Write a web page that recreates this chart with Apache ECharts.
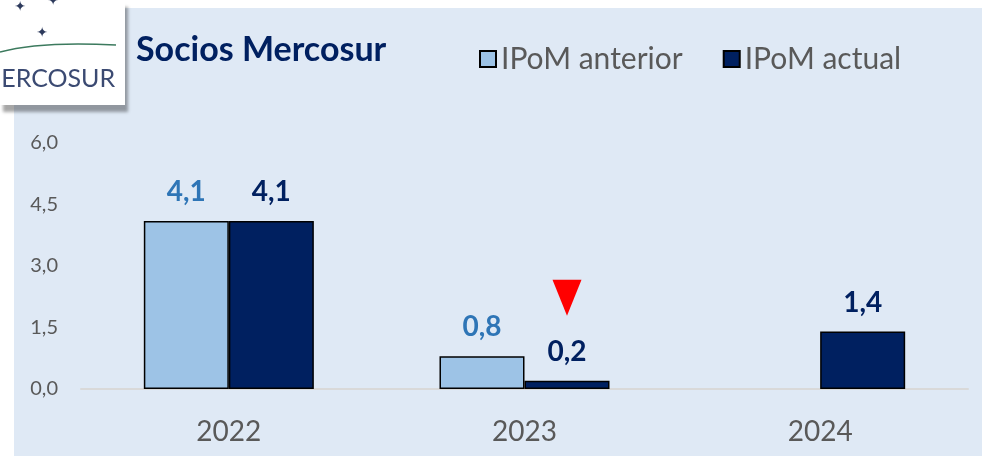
<!DOCTYPE html>
<html>
<head>
<meta charset="utf-8">
<script src="https://cdn.jsdelivr.net/npm/echarts@6/dist/echarts.min.js"></script>
<style>html,body{margin:0;padding:0;background:#fff}#c{width:982px;height:456px}</style>
</head>
<body>
<div id="c"></div>
<script>
const categories = ['2022', '2023', '2024'];
const seriesNames = ['IPoM anterior', 'IPoM actual'];
const anterior = [4.1, 0.8, null];
const actual = [4.1, 0.2, 1.4];
const downMarker = { category: '2023', value: 0.2 };
const titleText = 'Socios Mercosur';

const fmt = v => v.toFixed(1).replace('.', ',');
const FONT = 'Lato';

const chart = echarts.init(document.getElementById('c'), null, { renderer: 'canvas' });
chart.setOption({
  backgroundColor: '#ffffff',
  animation: false,
  textStyle: { fontFamily: FONT },
  graphic: [
    { type: 'rect', z: -100, silent: true, shape: { x: 14, y: 8, width: 968, height: 448 }, style: { fill: '#dfe9f5' } },
    { type: 'rect', z: 100, shape: { x: 0, y: 0, width: 125, height: 105 },
      style: { fill: '#ffffff', shadowBlur: 3, shadowOffsetX: 3, shadowOffsetY: 7, shadowColor: 'rgba(0,0,0,0.35)' } },
    { type: 'bezierCurve', z: 101, shape: { x1: 0, y1: 52, cpx1: 40, cpy1: 41, x2: 116, y2: 45 },
      style: { stroke: '#3c7a5e', lineWidth: 1.5, fill: null } },
    { type: 'text', z: 101, style: { text: '✦', x: 20, y: 7, font: '14px DejaVu Sans', fill: '#2d3a5c', align: 'center', verticalAlign: 'middle' } },
    { type: 'text', z: 101, style: { text: '✦', x: 53, y: 1, font: '14px DejaVu Sans', fill: '#2d3a5c', align: 'center', verticalAlign: 'middle' } },
    { type: 'text', z: 101, style: { text: '✦', x: 42, y: 33, font: '14px DejaVu Sans', fill: '#2d3a5c', align: 'center', verticalAlign: 'middle' } },
    { type: 'text', z: 101, style: { text: 'MERCOSUR', x: -22, y: 79, font: '25px Lato', fill: '#3b4a72', verticalAlign: 'middle' } },
    { type: 'text', z: 50, style: { text: titleText, x: 136, y: 50, font: 'bold 34px Lato', fill: '#002060', verticalAlign: 'middle' } }
  ],
  legend: {
    data: seriesNames,
    icon: 'rect',
    left: 474,
    top: 39,
    itemWidth: 16,
    itemHeight: 16,
    itemGap: 40,
    textStyle: { fontSize: 30, color: '#595959', fontFamily: FONT }
  },
  grid: { left: 81, right: 14, top: 143, bottom: 67, containLabel: false },
  xAxis: {
    type: 'category',
    data: categories,
    axisLine: { lineStyle: { color: '#d9d9d9', width: 2 } },
    axisTick: { show: false },
    axisLabel: { fontSize: 28, color: '#595959', margin: 29, fontFamily: FONT }
  },
  yAxis: {
    type: 'value',
    min: 0, max: 6, interval: 1.5,
    splitLine: { show: false },
    axisLine: { show: false },
    axisTick: { show: false },
    axisLabel: { fontSize: 20, color: '#595959', margin: 23, formatter: fmt, fontFamily: FONT }
  },
  series: [
    {
      name: seriesNames[0], type: 'bar', data: anterior, barGap: '0%', barCategoryGap: '42.5%',
      itemStyle: { color: '#9dc3e6', borderColor: '#000000', borderWidth: 1.5 },
      label: { show: true, position: 'top', distance: 15, formatter: p => fmt(p.value), fontSize: 28, fontWeight: 'bold', color: '#2e75b6', fontFamily: FONT }
    },
    {
      name: seriesNames[1], type: 'bar', data: actual,
      itemStyle: { color: '#002060', borderColor: '#000000', borderWidth: 1.5 },
      label: { show: true, position: 'top', distance: 15, formatter: p => fmt(p.value), fontSize: 28, fontWeight: 'bold', color: '#002060', fontFamily: FONT },
      markPoint: {
        data: [{ coord: [downMarker.category, downMarker.value], symbol: 'triangle', symbolRotate: 180, symbolSize: [29, 36], symbolOffset: [0, -83],
          itemStyle: { color: '#ff0000', borderWidth: 0 }, label: { show: false } }]
      }
    }
  ]
});
</script>
</body>
</html>
